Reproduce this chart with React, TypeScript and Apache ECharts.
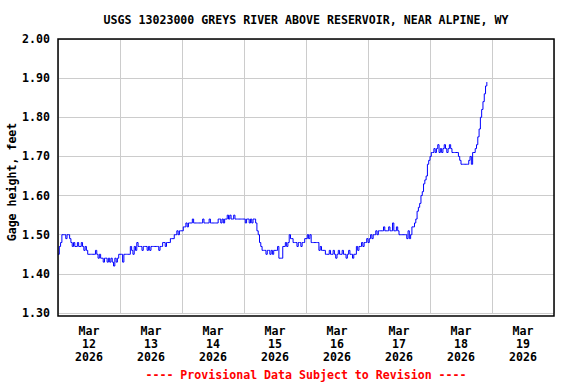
import React, { useEffect, useRef } from "react";
import * as echarts from "echarts";

// Gage height (ft), 30-minute readings starting Mar 12 2026 00:00
const mar12 = [1.45, 1.47, 1.48, 1.50, 1.50, 1.50, 1.49, 1.50, 1.50, 1.49, 1.48, 1.47, 1.48, 1.47, 1.47, 1.48,
  1.47, 1.47, 1.48, 1.47, 1.46, 1.47, 1.46, 1.45, 1.45, 1.45, 1.45, 1.45, 1.45, 1.46, 1.45, 1.44,
  1.45, 1.44, 1.44, 1.43, 1.44, 1.44, 1.43, 1.44, 1.43, 1.44, 1.43, 1.42, 1.44, 1.43, 1.44, 1.45];
const mar13 = [1.45, 1.45, 1.43, 1.45, 1.45, 1.45, 1.45, 1.45, 1.47, 1.46, 1.45, 1.47, 1.46, 1.48, 1.47, 1.47,
  1.47, 1.46, 1.47, 1.47, 1.47, 1.46, 1.47, 1.46, 1.47, 1.47, 1.47, 1.47, 1.47, 1.47, 1.46, 1.47,
  1.47, 1.48, 1.48, 1.47, 1.48, 1.48, 1.48, 1.49, 1.49, 1.49, 1.50, 1.50, 1.51, 1.50, 1.51, 1.51];
const mar14 = [1.51, 1.52, 1.52, 1.53, 1.52, 1.53, 1.53, 1.53, 1.54, 1.53, 1.53, 1.53, 1.53, 1.53, 1.53, 1.53,
  1.54, 1.53, 1.53, 1.53, 1.53, 1.54, 1.53, 1.53, 1.53, 1.53, 1.53, 1.53, 1.54, 1.54, 1.53, 1.54,
  1.53, 1.54, 1.54, 1.55, 1.54, 1.55, 1.54, 1.54, 1.55, 1.54, 1.54, 1.54, 1.54, 1.54, 1.54, 1.54];
const mar15 = [1.54, 1.53, 1.54, 1.54, 1.53, 1.54, 1.53, 1.54, 1.54, 1.53, 1.51, 1.50, 1.48, 1.47, 1.46, 1.46,
  1.46, 1.45, 1.46, 1.46, 1.45, 1.46, 1.45, 1.46, 1.46, 1.46, 1.47, 1.44, 1.44, 1.44, 1.47, 1.47,
  1.48, 1.47, 1.48, 1.50, 1.49, 1.49, 1.48, 1.48, 1.48, 1.47, 1.48, 1.48, 1.47, 1.48, 1.48, 1.49];
const mar16 = [1.49, 1.50, 1.49, 1.50, 1.48, 1.48, 1.48, 1.48, 1.48, 1.48, 1.46, 1.47, 1.46, 1.46, 1.46, 1.45,
  1.45, 1.45, 1.46, 1.45, 1.45, 1.46, 1.45, 1.44, 1.45, 1.46, 1.45, 1.45, 1.46, 1.45, 1.45, 1.44,
  1.45, 1.46, 1.45, 1.45, 1.44, 1.45, 1.45, 1.47, 1.46, 1.47, 1.47, 1.48, 1.47, 1.48, 1.48, 1.49];
const mar17 = [1.48, 1.49, 1.50, 1.49, 1.50, 1.50, 1.51, 1.50, 1.51, 1.51, 1.51, 1.51, 1.52, 1.51, 1.51, 1.51,
  1.52, 1.51, 1.51, 1.53, 1.51, 1.51, 1.52, 1.51, 1.50, 1.50, 1.50, 1.50, 1.50, 1.50, 1.49, 1.51,
  1.49, 1.50, 1.52, 1.52, 1.53, 1.54, 1.56, 1.57, 1.58, 1.60, 1.61, 1.63, 1.64, 1.65, 1.68, 1.69];
const mar18 = [1.70, 1.71, 1.71, 1.72, 1.71, 1.72, 1.73, 1.71, 1.72, 1.71, 1.72, 1.73, 1.72, 1.71, 1.72, 1.73,
  1.72, 1.71, 1.71, 1.71, 1.71, 1.71, 1.70, 1.69, 1.68, 1.68, 1.68, 1.68, 1.68, 1.68, 1.69, 1.70,
  1.68, 1.71, 1.71, 1.72, 1.73, 1.75, 1.77, 1.80, 1.82, 1.84, 1.86, 1.88, 1.89];

const stepHours = 0.5;
const dayNumbers = ["12", "13", "14", "15", "16", "17", "18", "19"];
const monthLabel = "Mar";
const yearLabel = "2026";
const yTicks = [1.3, 1.4, 1.5, 1.6, 1.7, 1.8, 1.9, 2.0];

const titleText = "USGS 13023000 GREYS RIVER ABOVE RESERVOIR, NEAR ALPINE, WY";
const footerText = "---- Provisional Data Subject to Revision ----";
const yName = "Gage height, feet";

const FONT = "'DejaVu Sans Mono', 'Liberation Mono', monospace";

export default function App() {
  const ref = useRef<HTMLDivElement>(null);
  useEffect(() => {
    if (!ref.current) return;
    const chart = echarts.init(ref.current, undefined, { renderer: "svg" });
    const values = [...mar12, ...mar13, ...mar14, ...mar15, ...mar16, ...mar17, ...mar18];
    const data = values.map((v, i) => [i * stepHours, v]);
    const gridLeft = 58, gridTop = 39, gridW = 496, gridH = 274;
    const cx = gridLeft + gridW / 2;
    chart.setOption({
      animation: false,
      backgroundColor: "#ffffff",
      grid: {
        left: gridLeft,
        top: gridTop,
        width: gridW,
        height: gridH,
        containLabel: false,
        outerBoundsMode: "none",
      },
      xAxis: [
        {
          type: "value",
          min: 0,
          max: 192,
          interval: 24,
          axisLine: { show: false },
          axisTick: { show: false },
          axisLabel: { show: false },
          splitLine: { show: true, lineStyle: { color: "#cccccc", width: 1 } },
        },
        {
          type: "value",
          min: 0,
          max: 192,
          interval: 12,
          position: "bottom",
          axisLine: { show: false },
          axisTick: { show: false },
          splitLine: { show: false },
          axisLabel: {
            show: true,
            showMinLabel: true,
            showMaxLabel: true,
            margin: 11,
            fontFamily: FONT,
            fontSize: 11.6,
            fontWeight: "bold",
            color: "#000",
            lineHeight: 13,
            formatter: (v: number) => {
              if (v % 24 !== 12) return "";
              const d = dayNumbers[Math.floor(v / 24)];
              return `${monthLabel}\n${d}\n${yearLabel}`;
            },
          },
        },
      ],
      yAxis: {
        type: "value",
        min: yTicks[0],
        max: yTicks[yTicks.length - 1],
        interval: 0.1,
        axisLine: { show: false },
        axisTick: { show: false },
        axisLabel: {
          margin: 8,
          fontFamily: FONT,
          fontSize: 11.6,
          fontWeight: "bold",
          color: "#000",
          formatter: (v: number) => v.toFixed(2),
        },
        splitLine: { show: true, lineStyle: { color: "#cccccc", width: 1 } },
      },
      series: [
        {
          type: "line",
          xAxisIndex: 0,
          data,
          step: "end",
          showSymbol: false,
          symbol: "none",
          lineStyle: { color: "#0000ff", width: 1 },
          z: 3,
        },
      ],
      graphic: [
        {
          type: "rect",
          shape: { x: gridLeft, y: gridTop, width: gridW, height: gridH + 3 },
          style: { fill: "none", stroke: "#000", lineWidth: 1.5 },
          z: 10,
          silent: true,
        },
        {
          type: "text",
          x: cx,
          y: 20,
          style: {
            text: titleText,
            fontFamily: FONT,
            fontSize: 11.6,
            fontWeight: "bold",
            fill: "#000",
            align: "center",
            verticalAlign: "middle",
          },
        },
        {
          type: "text",
          x: 12,
          y: 182,
          rotation: Math.PI / 2,
          style: {
            text: yName,
            fontFamily: FONT,
            fontSize: 11.6,
            fontWeight: "bold",
            fill: "#000",
            align: "center",
            verticalAlign: "middle",
          },
        },
        {
          type: "text",
          x: cx,
          y: 375,
          style: {
            text: footerText,
            fontFamily: FONT,
            fontSize: 11.6,
            fontWeight: "bold",
            fill: "#ff0000",
            align: "center",
            verticalAlign: "middle",
          },
        },
      ],
    });
    return () => chart.dispose();
  }, []);
  return (
    <div
      ref={ref}
      style={{ position: "fixed", left: 0, top: 0, width: 576, height: 384 }}
    />
  );
}
